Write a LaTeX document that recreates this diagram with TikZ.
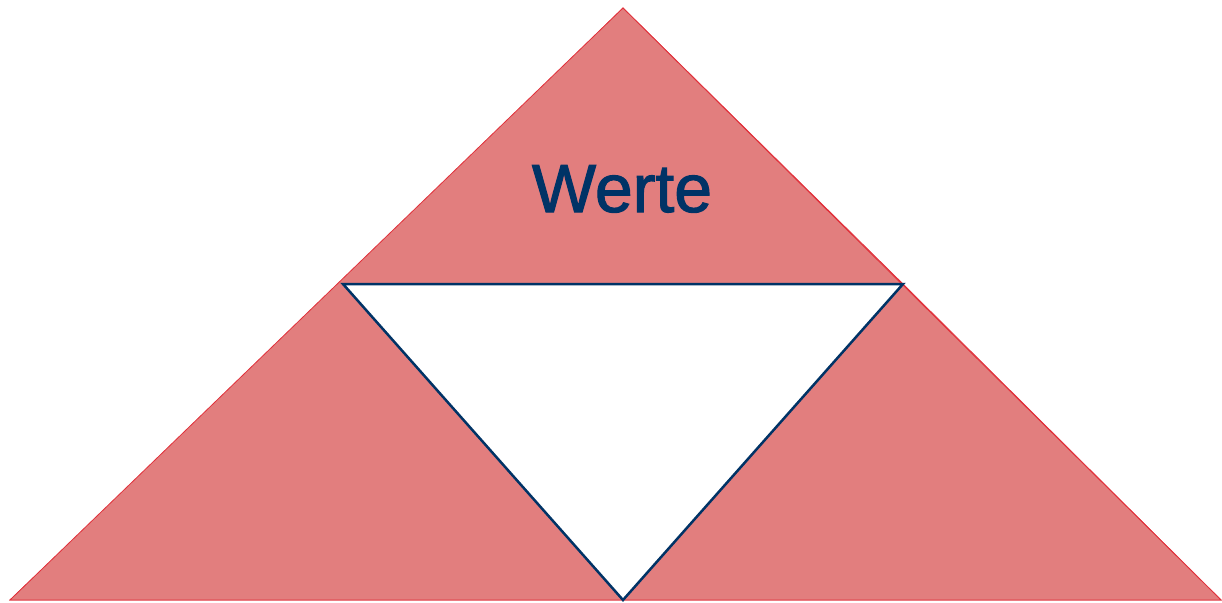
\documentclass[tikz,border=0pt]{standalone}
\usepackage{fontspec}
\setmainfont{Liberation Sans}
\newfontfamily\wertefont[FakeBold=1.6]{Liberation Sans}
\definecolor{pinkfill}{HTML}{E27E7E}
\definecolor{redline}{HTML}{E0303A}
\definecolor{navy}{HTML}{003366}
\begin{document}
\begin{tikzpicture}[x=1pt,y=-1pt,
  piece/.style={fill=pinkfill,draw=redline,line width=0.8pt,line join=miter},
  hole/.style={fill=white,draw=navy,line width=2.5pt,line join=miter}]
\useasboundingbox (0,0) rectangle (1222,602);
\coordinate (apex) at (623,8);
\coordinate (bl) at (10,600);
\coordinate (br) at (1221,600);
\coordinate (ml) at (343,284);
\coordinate (mr) at (903,284);
\coordinate (mb) at (623,600);
\fill[piece] (apex) -- (mr) -- (ml) -- cycle;
\fill[piece] (ml) -- (mb) -- (bl) -- cycle;
\fill[piece] (mr) -- (br) -- (mb) -- cycle;
\draw[piece] (apex) -- (br) -- (bl) -- cycle;
\draw[hole] (ml) -- (mr) -- (mb) -- cycle;
\node[text=navy,font=\wertefont\fontsize{68}{80}\selectfont,anchor=base] (werte) at (622,212) {Werte};
\end{tikzpicture}
\end{document}
